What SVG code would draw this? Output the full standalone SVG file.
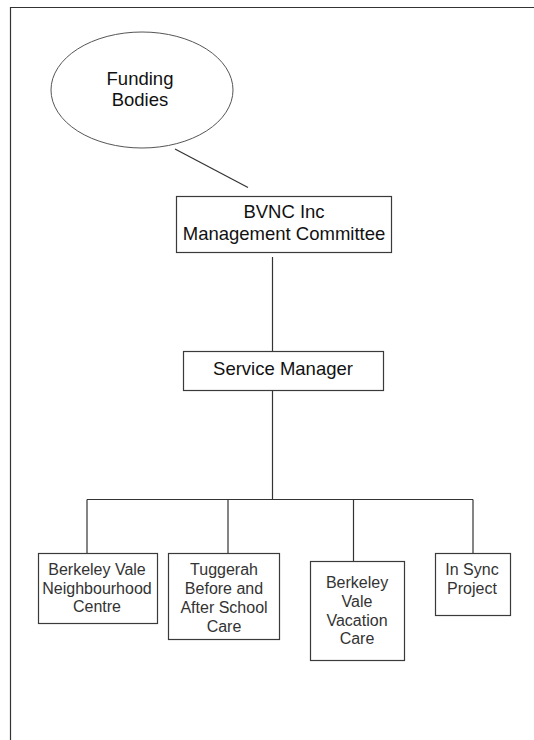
<svg xmlns="http://www.w3.org/2000/svg" width="534" height="740" viewBox="0 0 534 740">
<style>
.frame{fill:none;stroke:#333;stroke-width:1.2}
.box{fill:#fff;stroke:#3a3a3a;stroke-width:1.2}
.ell{fill:#fff;stroke:#555;stroke-width:1}
.ln{fill:none;stroke:#333;stroke-width:1.2}
.t{font-family:"Liberation Sans",Arial,sans-serif;fill:#111;text-anchor:middle}
.big{font-size:18.5px}
.sm{font-size:16px;fill:#333}
</style>
<rect width="534" height="740" fill="#fff"/>
<path class="frame" d="M10.5,740 V7.5 H534"/>
<g id="connectors">
<line class="ln" x1="175" y1="149" x2="248" y2="187.5"/>
<line class="ln" x1="272.5" y1="257" x2="272.5" y2="351"/>
<line class="ln" x1="272.5" y1="391" x2="272.5" y2="499.5"/>
<line class="ln" x1="87" y1="499.5" x2="473" y2="499.5"/>
<line class="ln" x1="87" y1="499.5" x2="87" y2="553"/>
<line class="ln" x1="228" y1="499.5" x2="228" y2="553"/>
<line class="ln" x1="353.5" y1="499.5" x2="353.5" y2="561.5"/>
<line class="ln" x1="473" y1="499.5" x2="473" y2="553"/>
</g>
<g id="funding">
<ellipse class="ell" cx="142" cy="90" rx="91" ry="58"/>
<text class="t big" x="140" y="85">Funding</text>
<text class="t big" x="140" y="105.5">Bodies</text>
</g>
<g id="bvnc">
<rect class="box" x="176.5" y="196.5" width="215" height="56"/>
<text class="t big" x="284" y="217.5">BVNC Inc</text>
<text class="t big" x="284" y="240">Management Committee</text>
</g>
<g id="service-manager">
<rect class="box" x="183.5" y="351.5" width="200" height="39"/>
<text class="t big" x="283" y="374.5" font-size="19.5">Service Manager</text>
</g>
<g id="bvnc-centre">
<rect class="box" x="38.5" y="553.5" width="119" height="70"/>
<text class="t sm" x="97" y="575">Berkeley Vale</text>
<text class="t sm" x="97" y="593.5">Neighbourhood</text>
<text class="t sm" x="97" y="612">Centre</text>
</g>
<g id="tuggerah">
<rect class="box" x="168.5" y="553.5" width="111" height="86"/>
<text class="t sm" x="224" y="575">Tuggerah</text>
<text class="t sm" x="224" y="594">Before and</text>
<text class="t sm" x="224" y="613">After School</text>
<text class="t sm" x="224" y="631.5">Care</text>
</g>
<g id="vacation-care">
<rect class="box" x="310.5" y="561.5" width="94" height="99"/>
<text class="t sm" x="357" y="588">Berkeley</text>
<text class="t sm" x="357" y="606.5">Vale</text>
<text class="t sm" x="357" y="625.5">Vacation</text>
<text class="t sm" x="357" y="644">Care</text>
</g>
<g id="in-sync">
<rect class="box" x="435.5" y="553.5" width="75" height="62"/>
<text class="t sm" x="472" y="575">In Sync</text>
<text class="t sm" x="472" y="593.5">Project</text>
</g>
</svg>
